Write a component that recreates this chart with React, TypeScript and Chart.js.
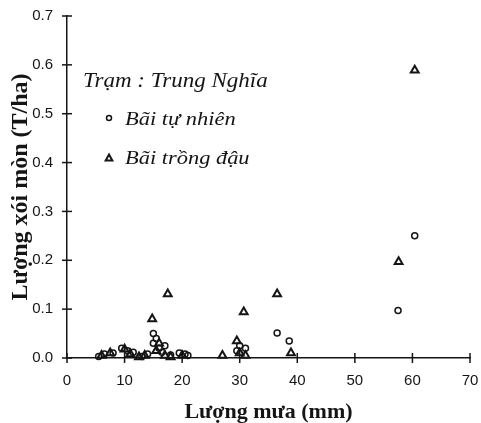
import React, { useEffect, useRef } from "react";
import { Chart, registerables } from "chart.js";

Chart.register(...registerables);

const xTickValues = [0, 10, 20, 30, 40, 50, 60, 70];
const yTickValues = [0, 0.1, 0.2, 0.3, 0.4, 0.5, 0.6, 0.7];
const stationLabel = "Trạm : Trung Nghĩa";
const seriesNames = ["Bãi tự nhiên", "Bãi trồng đậu"];
const xTitle = "Lượng mưa (mm)";
const yTitle = "Lượng xói mòn (T/ha)";

// Bãi tự nhiên (circles)
const naturalRain = [5.5, 6.5, 8.0, 9.5, 10.5, 11.5, 13.0, 14.0, 15.0, 15.5, 15.0, 16.0, 16.5, 17.0, 18.0, 19.5, 20.5, 21.0, 29.5, 30.0, 31.0, 36.5, 38.6, 57.5, 60.4];
const naturalLoss = [0.003, 0.008, 0.01, 0.02, 0.015, 0.012, 0.003, 0.008, 0.05, 0.04, 0.03, 0.02, 0.012, 0.025, 0.006, 0.01, 0.008, 0.005, 0.015, 0.025, 0.02, 0.051, 0.035, 0.097, 0.25];

// Bãi trồng đậu (triangles)
const beanRain = [6.0, 7.5, 10.0, 11.0, 12.5, 13.5, 14.8, 15.5, 16.0, 17.0, 17.5, 18.0, 20.0, 27.0, 29.5, 30.0, 30.7, 31.0, 36.5, 38.9, 57.6, 60.4];
const beanLoss = [0.005, 0.01, 0.018, 0.008, 0.002, 0.005, 0.08, 0.015, 0.03, 0.005, 0.131, 0.002, 0.005, 0.005, 0.035, 0.01, 0.094, 0.005, 0.131, 0.01, 0.197, 0.589];

export default function App() {
  const ref = useRef<HTMLCanvasElement>(null);

  useEffect(() => {
    const ink = "#151515";
    const overlay = {
      id: "overlay",
      afterDraw(chart: any) {
        const { ctx, chartArea, scales } = chart;
        const xs = scales.x;
        const ys = scales.y;
        ctx.save();
        ctx.strokeStyle = ink;
        ctx.lineWidth = 1.5;
        xs.ticks.forEach((t: any) => {
          const px = xs.getPixelForValue(t.value);
          ctx.beginPath();
          ctx.moveTo(px, chartArea.bottom - 5);
          ctx.lineTo(px, chartArea.bottom + 5);
          ctx.stroke();
        });
        ys.ticks.forEach((t: any) => {
          const py = ys.getPixelForValue(t.value);
          ctx.beginPath();
          ctx.moveTo(chartArea.left - 5, py);
          ctx.lineTo(chartArea.left + 5, py);
          ctx.stroke();
        });
        // legend
        const L = chartArea.left;
        const T = chartArea.top;
        const stretch = 1.15;
        ctx.fillStyle = ink;
        ctx.textBaseline = "middle";
        ctx.textAlign = "left";
        const drawText = (s: string, x: number, y: number, font: string) => {
          ctx.save();
          ctx.font = font;
          ctx.translate(x, y);
          ctx.scale(stretch, 1);
          ctx.fillText(s, 0, 0);
          ctx.restore();
        };
        drawText(stationLabel, L + 16, T + 66, "italic 20px 'Liberation Serif'");
        drawText(seriesNames[0], L + 58, T + 104, "italic 19.5px 'Liberation Serif'");
        drawText(seriesNames[1], L + 58, T + 143, "italic 19.5px 'Liberation Serif'");
        ctx.lineWidth = 1.5;
        ctx.beginPath();
        ctx.arc(L + 42, T + 102, 2.5, 0, Math.PI * 2);
        ctx.stroke();
        ctx.lineWidth = 2;
        ctx.beginPath();
        const cx = L + 42, cy = T + 142, r = 3.5;
        ctx.moveTo(cx, cy - r);
        ctx.lineTo(cx + r * 0.95, cy + r * 0.7);
        ctx.lineTo(cx - r * 0.95, cy + r * 0.7);
        ctx.closePath();
        ctx.stroke();
        ctx.restore();
      },
    };

    const chart = new Chart(ref.current as HTMLCanvasElement, {
      type: "scatter",
      data: {
        datasets: [
          {
            label: seriesNames[0],
            data: naturalRain.map((x, i) => ({ x, y: naturalLoss[i] })),
            pointStyle: "circle",
            pointRadius: 3,
            borderWidth: 1.5,
            borderColor: ink,
            backgroundColor: "rgba(255,255,255,0)",
          },
          {
            label: seriesNames[1],
            data: beanRain.map((x, i) => ({ x, y: beanLoss[i] })),
            pointStyle: "triangle",
            pointRadius: 4.5,
            borderWidth: 2,
            borderColor: ink,
            backgroundColor: "rgba(255,255,255,0)",
          },
        ],
      },
      options: {
        animation: false,
        responsive: false,
        clip: false as any,
        layout: { padding: { top: 16, right: 11, left: 0, bottom: 0 } },
        plugins: { legend: { display: false }, tooltip: { enabled: false } },
        scales: {
          x: {
            type: "linear",
            min: 0,
            max: 70,
            afterBuildTicks: (s: any) => {
              s.ticks = xTickValues.map((v) => ({ value: v }));
            },
            afterFit: (s: any) => {
              s.height = 65;
              s.paddingLeft = 0;
              s.paddingRight = 0;
            },
            grid: { display: false, drawTicks: false },
            border: { display: true, color: ink, width: 1.5 },
            ticks: {
              padding: 14,
              color: ink,
              font: { family: "'Liberation Sans'", size: 15 },
              callback: (v: any) => String(v),
            },
            title: {
              display: true,
              text: xTitle,
              color: ink,
              font: { family: "'Liberation Serif'", size: 22, weight: "bold", lineHeight: 1 },
              padding: { top: 2, bottom: 0 },
            },
          },
          y: {
            type: "linear",
            min: 0,
            max: 0.7,
            afterBuildTicks: (s: any) => {
              s.ticks = yTickValues.map((v) => ({ value: v }));
            },
            afterFit: (s: any) => {
              s.width = 67;
              s.paddingTop = 0;
              s.paddingBottom = 0;
            },
            grid: { display: false, drawTicks: false },
            border: { display: true, color: ink, width: 1.5 },
            ticks: {
              padding: 14,
              color: ink,
              font: { family: "'Liberation Sans'", size: 15 },
              callback: (v: any) => Number(v).toFixed(1),
            },
            title: {
              display: true,
              text: yTitle,
              color: ink,
              font: { family: "'Liberation Serif'", size: 24, weight: "bold", lineHeight: 1 },
              padding: { top: 9, bottom: 2 },
            },
          },
        },
      },
      plugins: [overlay],
    });
    return () => chart.destroy();
  }, []);

  return (
    <div style={{ position: "absolute", left: 0, top: 0, width: 481, height: 423, background: "#fff" }}>
      <canvas ref={ref} width={481} height={423} style={{ display: "block", width: 481, height: 423 }} />
    </div>
  );
}
